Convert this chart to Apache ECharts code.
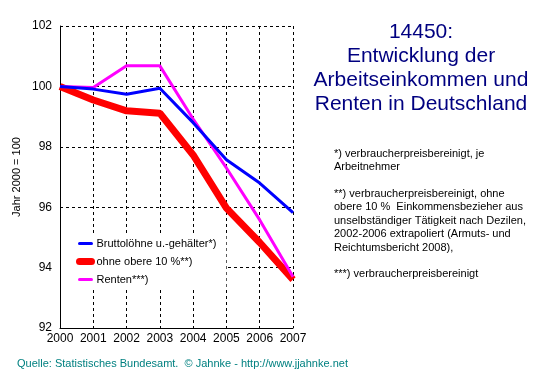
<!DOCTYPE html>
<html>
<head>
<meta charset="utf-8">
<script src="https://cdn.jsdelivr.net/npm/echarts@6/dist/echarts.min.js"></script>
<style>
  html, body { margin: 0; padding: 0; background: #fff; }
  #main { width: 553px; height: 376px; }
</style>
</head>
<body>
<div id="main"></div>
<script>
// Jahre (x-Achse)
var years = ['2000', '2001', '2002', '2003', '2004', '2005', '2006', '2007'];
// Index, Jahr 2000 = 100
var brutto = [100, 99.91, 99.74, 99.94, 98.8, 97.57, 96.8, 95.82];
var ohneObere = [100, 99.55, 99.19, 99.11, 97.73, 95.97, 94.83, 93.6];
var renten = [100, 99.96, 100.68, 100.68, 98.92, 97.3, 95.58, 93.7];
var seriesNames = ['Bruttolöhne u.-gehälter*)', 'ohne obere 10 %**)', 'Renten***)'];
var lineWidths = [3, 7, 3];

var titleLines = ['14450:', 'Entwicklung der', 'Arbeitseinkommen und', 'Renten in Deutschland'];
var noteLines = [
    '*) verbraucherpreisbereinigt, je',
    'Arbeitnehmer',
    '',
    '**) verbraucherpreisbereinigt, ohne',
    'obere 10 %  Einkommensbezieher aus',
    'unselbständiger Tätigkeit nach Dezilen,',
    '2002-2006 extrapoliert (Armuts- und',
    'Reichtumsbericht 2008),',
    '',
    '***) verbraucherpreisbereinigt'
];
var quelle = 'Quelle: Statistisches Bundesamt.  © Jahnke - http://www.jjahnke.net';

var myChart = echarts.init(document.getElementById('main'));

var font = 'Liberation Sans, Arial, sans-serif';

// Legendeneinträge mit eigener Linienstärke
var legendData = seriesNames.map(function (n, i) {
    return { name: n, lineStyle: { width: lineWidths[i], cap: 'round' } };
});

var option = {
    backgroundColor: '#fff',
    animation: false,
    textStyle: { fontFamily: font },
    graphic: [
        {
            type: 'text', x: 421, y: 20,
            style: {
                text: titleLines.join('\n'), fill: '#000080',
                font: '21px ' + font, lineHeight: 24, align: 'center'
            }
        },
        {
            type: 'text', left: 334, top: 147,
            style: {
                text: noteLines.join('\n'), fill: '#000',
                font: '11px ' + font, lineHeight: 13.4
            }
        },
        {
            type: 'text', left: 17, top: 358,
            style: { text: quelle, fill: '#008080', font: '11px ' + font }
        }
    ],
    legend: {
        orient: 'vertical',
        left: 61, top: 234,
        padding: [4, 10, 3, 15],
        backgroundColor: '#fff',
        itemWidth: 12, itemHeight: 12, itemGap: 7,
        itemStyle: { opacity: 0 },
        textStyle: { fontSize: 11, color: '#000', fontFamily: font },
        data: legendData
    },
    grid: { left: 60, right: 260, top: 26, bottom: 48 },
    xAxis: {
        type: 'category',
        data: years,
        boundaryGap: false,
        axisLine: { lineStyle: { color: '#000', width: 1 } },
        axisTick: { show: false },
        axisLabel: { color: '#000', fontSize: 12, margin: 5, interval: 0, fontFamily: font },
        splitLine: { show: true, lineStyle: { color: '#000', type: [3, 3], width: 1 } }
    },
    yAxis: {
        type: 'value',
        min: 92, max: 102, interval: 2,
        name: 'Jahr 2000 = 100',
        nameLocation: 'middle',
        nameGap: 38,
        nameTextStyle: { color: '#000', fontSize: 11, fontFamily: font },
        axisLine: { show: true, lineStyle: { color: '#000', width: 1 } },
        axisTick: { show: false },
        axisLabel: { color: '#000', fontSize: 12, margin: 8, fontFamily: font },
        splitLine: { show: true, lineStyle: { color: '#000', type: [3, 3], width: 1 } }
    },
    series: [
        {
            name: seriesNames[0], type: 'line', data: brutto, symbol: 'none',
            lineStyle: { color: '#0000ff', width: lineWidths[0] }, itemStyle: { color: '#0000ff' }, z: 4
        },
        {
            name: seriesNames[1], type: 'line', data: ohneObere, symbol: 'none',
            lineStyle: { color: '#ff0000', width: lineWidths[1] }, itemStyle: { color: '#ff0000' }, z: 2
        },
        {
            name: seriesNames[2], type: 'line', data: renten, symbol: 'none',
            lineStyle: { color: '#ff00ff', width: lineWidths[2] }, itemStyle: { color: '#ff00ff' }, z: 3
        }
    ]
};

myChart.setOption(option, true);
</script>
</body>
</html>
